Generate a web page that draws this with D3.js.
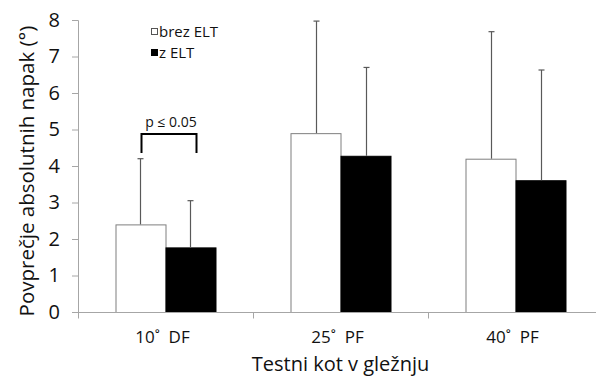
<!DOCTYPE html>
<html><head><meta charset="utf-8">
<script src="https://cdn.jsdelivr.net/npm/d3@7/dist/d3.min.js"></script>
<style>
html,body{margin:0;padding:0;background:#fff;}
svg{display:block;}
text{font-family:"Open Sans",sans-serif;fill:#111;}
</style></head>
<body><svg id="c" width="596" height="384"></svg>
<script>
const categories = ["10˚  DF", "25˚  PF", "40˚  PF"];
const seriesNames = ["brez ELT", "z ELT"];
const meansBrez = [2.4, 4.9, 4.2];
const meansZ = [1.77, 4.28, 3.61];
const sdBrez = [1.8, 3.07, 3.48];
const sdZ = [1.28, 2.42, 3.02];
const yTicks = [0, 1, 2, 3, 4, 5, 6, 7, 8];
const yLabel = "Povprečje absolutnih napak (°)";
const xLabel = "Testni kot v gležnju";
const sigLabel = "p ≤ 0.05";

(function () {
const svg = d3.select("#c");
const mL = 78, mR = 603, mT = 20, mB = 312;
const x0 = d3.scaleBand().domain(categories).range([mL, mR]).paddingInner(75/175).paddingOuter(75/350);
const x1 = d3.scaleBand().domain(seriesNames).range([0, x0.bandwidth()]);
const y = d3.scaleLinear().domain([0, 8]).range([mB, mT]);

const fills = {"brez ELT": "#ffffff", "z ELT": "#000000"};
const strokes = {"brez ELT": "#7f7f7f", "z ELT": "#000000"};
const data = [];
categories.forEach((c, i) => {
  data.push({c, s: "brez ELT", v: meansBrez[i], e: sdBrez[i]});
  data.push({c, s: "z ELT", v: meansZ[i], e: sdZ[i]});
});

// y axis
const yAxis = d3.axisLeft(y).tickValues(yTicks).tickSize(6).tickPadding(12).tickFormat(d3.format("d"));
const gy = svg.append("g").attr("transform", `translate(${mL},0)`).call(yAxis);
gy.select(".domain").attr("stroke", "#a6a6a6");
gy.selectAll(".tick line").attr("stroke", "#a6a6a6");
gy.selectAll(".tick text").attr("font-size", 20).attr("fill", "#111").attr("font-family", '"Open Sans",sans-serif');

// bars
svg.append("g").selectAll("rect").data(data).join("rect")
  .attr("x", d => x0(d.c) + x1(d.s) + 0.5)
  .attr("y", d => y(d.v) + 0.5)
  .attr("width", x1.bandwidth())
  .attr("height", d => y(0) - y(d.v))
  .attr("fill", d => fills[d.s])
  .attr("stroke", d => strokes[d.s])
  .attr("stroke-width", 1);

// x axis
const xAxis = d3.axisBottom(d3.scaleLinear().domain([0, 3]).range([mL, mR])).tickValues([0,1,2,3]).tickSize(6).tickFormat("");
const gx = svg.append("g").attr("transform", `translate(0,${mB + 0.5})`).call(xAxis);
gx.select(".domain").attr("stroke", "#a6a6a6").attr("d", `M${mL-6},0H${mR}`);
gx.selectAll(".tick line").attr("stroke", "#a6a6a6");

// category labels
svg.append("g").selectAll("text").data(categories).join("text")
  .attr("x", d => x0(d) + x0.bandwidth()/2 - 3)
  .attr("y", 343)
  .attr("text-anchor", "middle")
  .attr("font-size", 17)
  .style("white-space", "pre")
  .text(d => d);

// error bars
const eg = svg.append("g").attr("stroke", "#595959").attr("stroke-width", 1.2);
data.forEach(d => {
  const cx = Math.round(x0(d.c) + x1(d.s) + x1.bandwidth()/2) + 0.5;
  eg.append("line").attr("x1", cx).attr("x2", cx).attr("y1", y(d.v)).attr("y2", y(d.v + d.e));
  eg.append("line").attr("x1", cx - 3).attr("x2", cx + 3).attr("y1", y(d.v + d.e)).attr("y2", y(d.v + d.e));
});

// significance bracket
const bx1 = x0(categories[0]) + x1("brez ELT") + x1.bandwidth()/2 + 1;
const bx2 = x0(categories[0]) + x1("z ELT") + x1.bandwidth()/2 + 6;
svg.append("path")
  .attr("d", `M${bx1},153V134H${bx2}V153`)
  .attr("fill", "none").attr("stroke", "#000").attr("stroke-width", 2);
svg.append("text").attr("x", (bx1 + bx2)/2 + 2).attr("y", 127).attr("text-anchor", "middle")
  .attr("font-size", 14).text(sigLabel);

// legend
const lg = svg.append("g");
seriesNames.forEach((s, i) => {
  const cy = 32 + i * 21;
  lg.append("rect").attr("x", 151.5).attr("y", cy - 3.5).attr("width", 6).attr("height", 6)
    .attr("fill", fills[s]).attr("stroke", i === 0 ? "#555" : "#000");
  lg.append("text").attr("x", 159).attr("y", cy + 5).attr("font-size", 15)
    .attr("font-family", '"Liberation Sans",Arial,sans-serif').attr("fill", "#222").text(s);
});

// axis titles
svg.append("text").attr("transform", "translate(26,171) rotate(-90)")
  .attr("text-anchor", "middle").attr("dominant-baseline", "central")
  .attr("font-size", 20.5).text(yLabel);
svg.append("text").attr("x", (mL + mR)/2).attr("y", 371)
  .attr("text-anchor", "middle").attr("font-size", 20).text(xLabel);
})();
</script></body></html>
